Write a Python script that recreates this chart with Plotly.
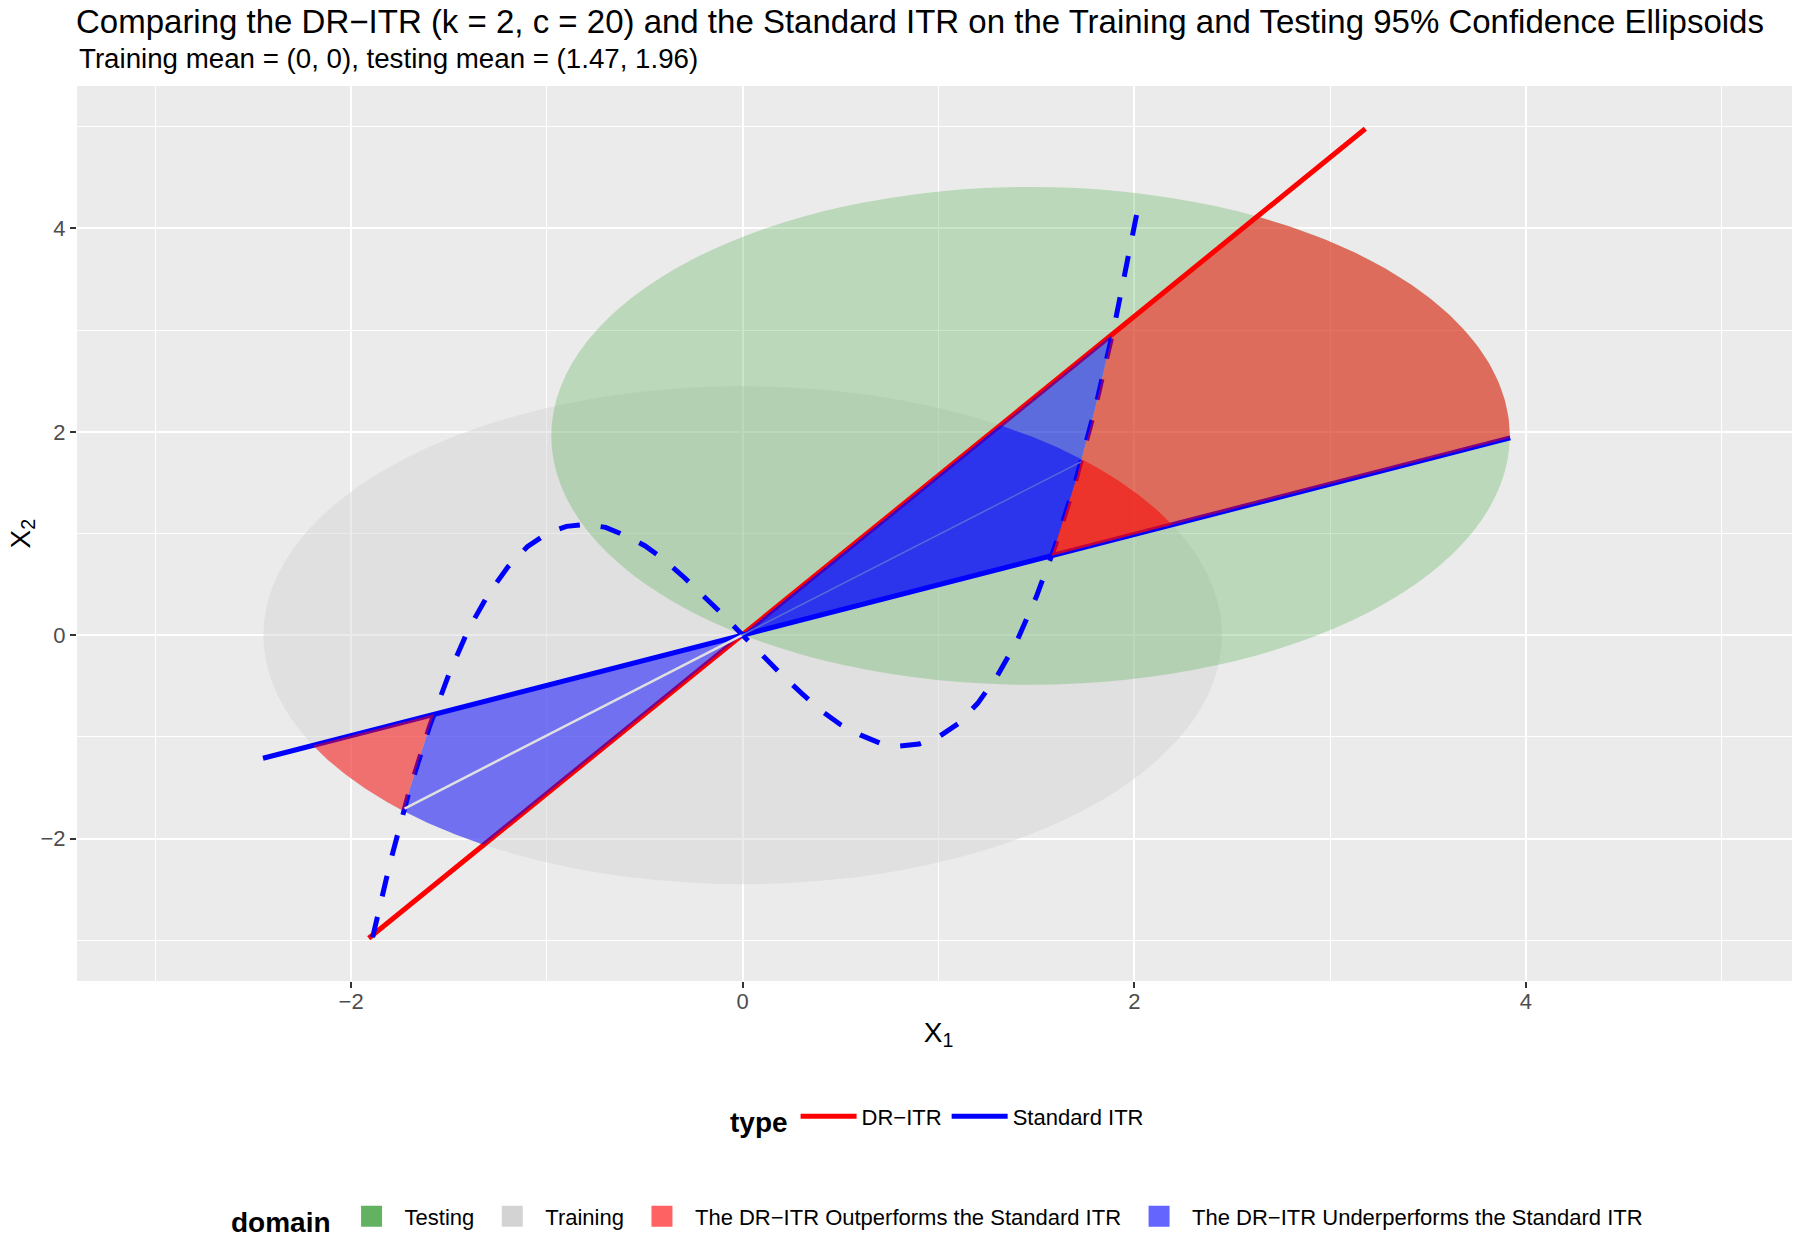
import numpy as np
import plotly.graph_objects as go

# ---- values ----
train_mean = [0.0, 0.0]
test_mean = [1.47, 1.96]
ellipse_radius = 2.4477  # 95% chi-square radius (2 df), identity covariance

# decision boundaries (segment end points)
dr_itr_x = [-1.91, 3.18]
dr_itr_y = [-2.98, 4.98]
std_itr_x = [-2.45, 3.92]
std_itr_y = [-1.21, 1.94]

# dashed boundary, points
curve_x = [-1.89, -1.8, -1.7, -1.6, -1.5, -1.4, -1.3, -1.2, -1.1, -1.0,
           -0.9, -0.8, -0.7, -0.6, -0.5, -0.4, -0.3, -0.2, -0.1, 0.0,
           0.1, 0.2, 0.3, 0.4, 0.5, 0.6, 0.7, 0.8, 0.9, 1.0,
           1.1, 1.2, 1.3, 1.4, 1.5, 1.6, 1.7, 1.8, 1.9, 2.0, 2.03]
curve_y = [-2.97, -2.23, -1.51, -0.90, -0.38, 0.06, 0.40, 0.67, 0.87, 1.00,
           1.07, 1.09, 1.06, 0.98, 0.88, 0.74, 0.57, 0.39, 0.20, 0.00,
           -0.20, -0.39, -0.57, -0.74, -0.88, -0.98, -1.06, -1.09, -1.07, -1.00,
           -0.87, -0.67, -0.40, -0.06, 0.38, 0.90, 1.51, 2.23, 3.06, 4.00, 4.31]

axis_range = [-3.4, 5.4]
tick_vals = [-2, 0, 2, 4]

TITLE = ("Comparing the DR\u2212ITR (k = 2, c = 20) and the Standard ITR "
         "on the Training and Testing 95% Confidence Ellipsoids")
SUBTITLE = "Training mean = (0, 0), testing mean = (1.47, 1.96)"
type_names = ["DR\u2212ITR", "Standard ITR"]
domain_names = ["Testing", "Training",
                "The DR\u2212ITR Outperforms the Standard ITR",
                "The DR\u2212ITR Underperforms the Standard ITR"]

# ---- style ----
FONT = "Liberation Sans, Arial, sans-serif"
RED = "#FF0000"
BLUE = "#0000FF"
TRAIN_FILL = "rgba(211,211,211,0.45)"
TEST_FILL = "rgba(77,175,74,0.3)"
OUT_FILL = "rgba(255,0,0,0.5)"
UNDER_FILL = "rgba(0,0,255,0.5)"
domain_keys = ["#62B262", "#D3D3D3", "#FF6262", "#6464FF"]

R = ellipse_radius


# ---- geometry of the disagreement wedges ----
def line_coefs(xs, ys):
    m = (ys[1] - ys[0]) / (xs[1] - xs[0])
    return m, ys[0] - m * xs[0]


m_dr, b_dr = line_coefs(dr_itr_x, dr_itr_y)
m_std, b_std = line_coefs(std_itr_x, std_itr_y)
ox = (b_std - b_dr) / (m_dr - m_std)
O = np.array([ox, m_dr * ox + b_dr])

P = np.column_stack([curve_x, curve_y])


def ray_exit(direction, center):
    d = np.asarray(direction, float)
    d = d / np.linalg.norm(d)
    w = O - np.asarray(center, float)
    bq = 2 * d.dot(w)
    cq = w.dot(w) - R ** 2
    t = (-bq + np.sqrt(bq * bq - 4 * cq)) / 2
    return O + t * d


def curve_cross(fun, lo, hi):
    v = np.array([fun(p) for p in P])
    for i in range(len(P) - 1):
        if lo <= P[i, 0] <= hi and v[i] * v[i + 1] <= 0 and v[i] != v[i + 1]:
            return i + v[i] / (v[i] - v[i + 1])
    raise ValueError("no crossing")


def curve_at(s):
    i = min(int(np.floor(s)), len(P) - 2)
    return P[i] + (s - i) * (P[i + 1] - P[i])


def curve_path(sa, sb):
    if sa > sb:
        return curve_path(sb, sa)[::-1]
    inner = [P[k] for k in range(int(np.floor(sa)) + 1, int(np.ceil(sb)))]
    return [curve_at(sa)] + inner + [curve_at(sb)]


def angle(p, c):
    return np.arctan2(p[1] - c[1], p[0] - c[0])


def arc(center, p0, p1, n=90):
    c = np.asarray(center, float)
    a0, a1 = angle(p0, c), angle(p1, c)
    if a1 < a0:
        a1 += 2 * np.pi
    a = np.linspace(a0, a1, n)
    return list(c + R * np.column_stack([np.cos(a), np.sin(a)]))


def on_std(p):
    return p[1] - (m_std * p[0] + b_std)


def on_dr(p):
    return p[1] - (m_dr * p[0] + b_dr)


def in_train(p):
    return (p[0] - train_mean[0]) ** 2 + (p[1] - train_mean[1]) ** 2 - R ** 2


d_std = [1.0, m_std]
d_dr = [1.0, m_dr]
neg = lambda d: [-d[0], -d[1]]

s_a_up = curve_cross(on_std, 0.5, 3)
s_a_dn = curve_cross(on_std, -3, -0.5)
s_b_up = curve_cross(in_train, 0.5, 3)
s_b_dn = curve_cross(in_train, -3, -0.5)
s_d_up = curve_cross(on_dr, 0.5, 3)
A_up, A_dn = curve_at(s_a_up), curve_at(s_a_dn)
B_up, B_dn = curve_at(s_b_up), curve_at(s_b_dn)

tr_std_up, tr_dr_up = ray_exit(d_std, train_mean), ray_exit(d_dr, train_mean)
tr_std_dn, tr_dr_dn = ray_exit(neg(d_std), train_mean), ray_exit(neg(d_dr), train_mean)
te_std_up, te_dr_up = ray_exit(d_std, test_mean), ray_exit(d_dr, test_mean)

train_regions = [
    ([O] + curve_path(s_a_up, s_b_up), UNDER_FILL),
    ([O, B_up] + arc(train_mean, B_up, tr_dr_up), UNDER_FILL),
    ([A_up, tr_std_up] + arc(train_mean, tr_std_up, B_up) + curve_path(s_b_up, s_a_up), OUT_FILL),
    ([O] + curve_path(s_a_dn, s_b_dn), UNDER_FILL),
    ([O, B_dn] + arc(train_mean, B_dn, tr_dr_dn), UNDER_FILL),
    ([A_dn, tr_std_dn] + arc(train_mean, tr_std_dn, B_dn) + curve_path(s_b_dn, s_a_dn), OUT_FILL),
]
test_regions = [
    ([O] + curve_path(s_a_up, s_d_up), UNDER_FILL),
    ([A_up, te_std_up] + arc(test_mean, te_std_up, te_dr_up) + curve_path(s_d_up, s_a_up), OUT_FILL),
]
# thin seams left between the training pieces
seams = [([O, B_dn], "rgb(224,224,224)", 2.5), ([O, B_up], "rgb(180,209,179)", 1.5)]


def poly_trace(pts, color):
    a = np.array(pts)
    return go.Scatter(x=a[:, 0], y=a[:, 1], mode="lines", fill="toself",
                      fillcolor=color, line=dict(width=0), hoverinfo="skip",
                      showlegend=False)


fig = go.Figure()

# boundaries
fig.add_trace(go.Scatter(x=dr_itr_x, y=dr_itr_y, mode="lines", name=type_names[0],
                         line=dict(color=RED, width=5), legend="legend"))
fig.add_trace(go.Scatter(x=std_itr_x, y=std_itr_y, mode="lines", name=type_names[1],
                         line=dict(color=BLUE, width=5), legend="legend"))
fig.add_trace(go.Scatter(x=curve_x, y=curve_y, mode="lines", showlegend=False,
                         line=dict(color=BLUE, width=5, dash="21px,21px")))

for pts, col in train_regions:
    fig.add_trace(poly_trace(pts, col))
for pts, col, w in seams:
    a = np.array(pts)
    fig.add_trace(go.Scatter(x=a[:, 0], y=a[:, 1], mode="lines", hoverinfo="skip",
                             showlegend=False, line=dict(color=col, width=w)))
for pts, col in test_regions:
    fig.add_trace(poly_trace(pts, col))

# domain legend entries
for name, col in zip(domain_names, domain_keys):
    fig.add_trace(go.Scatter(x=[None], y=[None], mode="markers", name=name,
                             marker=dict(symbol="square", size=16, color=col,
                                         line=dict(color=col, width=5)),
                             legend="legend2"))

# confidence ellipses
for mean, fill in [(train_mean, TRAIN_FILL), (test_mean, TEST_FILL)]:
    fig.add_shape(type="circle", xref="x", yref="y",
                  x0=mean[0] - R, x1=mean[0] + R, y0=mean[1] - R, y1=mean[1] + R,
                  fillcolor=fill, line=dict(width=0), layer="between")

axis_style = dict(
    range=axis_range, tickvals=tick_vals, showgrid=True, gridcolor="white",
    gridwidth=2.2, zeroline=False, showline=False, ticks="outside", ticklen=6,
    tickwidth=1.5, tickcolor="#333333", automargin=False,
    tickfont=dict(family=FONT, size=22, color="#4D4D4D"),
    minor=dict(dtick=1, tick0=0, showgrid=True, gridcolor="white", gridwidth=1.1, ticks=""),
)

# the page body adds an 8px offset, margins below account for it
fig.update_layout(
    width=1800, height=1238,
    margin=dict(l=69, r=8, t=78, b=265, autoexpand=False),
    paper_bgcolor="white", plot_bgcolor="#EBEBEB",
    font=dict(family=FONT, color="black"),
    title=dict(text=TITLE, x=68 / 1800, xanchor="left", xref="container",
               y=1 - 13 / 1238, yanchor="middle", yref="container",
               font=dict(size=33, color="black")),
    xaxis=dict(axis_style, ticklabelstandoff=-5,
               title=dict(text="X<sub>1</sub>", font=dict(size=28), standoff=8)),
    yaxis=dict(axis_style),
    legend=dict(title=dict(text="<b>type</b>", font=dict(size=28)), orientation="h",
                x=0.5, xanchor="center", y=-0.154, yanchor="middle", itemwidth=56,
                font=dict(size=22), bgcolor="rgba(0,0,0,0)"),
    legend2=dict(title=dict(text="<b>domain</b>", font=dict(size=28)), orientation="h",
                 x=0.5, xanchor="center", y=-0.266, yanchor="middle", itemwidth=56,
                 font=dict(size=22), bgcolor="rgba(0,0,0,0)"),
    annotations=[
        dict(text=SUBTITLE, xref="paper", yref="paper", x=0, y=1 + 27.5 / 895,
             xanchor="left", yanchor="middle", showarrow=False,
             font=dict(size=27.7, color="black")),
        # y axis title, placed by hand so it can sit close to the page edge
        dict(text="X<sub>2</sub>", xref="paper", yref="paper", x=-55 / 1723, y=0.5,
             xanchor="center", yanchor="middle", textangle=-90, showarrow=False,
             font=dict(size=28, color="black")),
    ],
    showlegend=True,
)

fig.write_html("out.html")
